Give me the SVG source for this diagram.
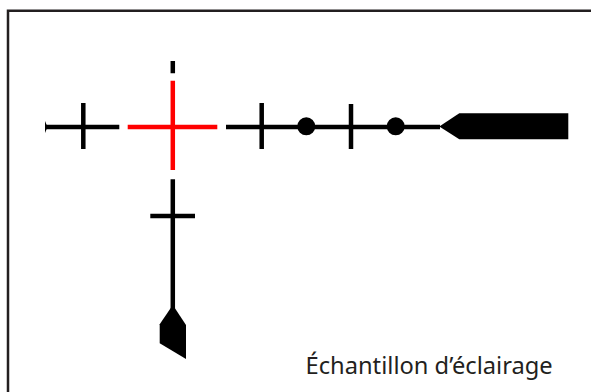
<svg xmlns="http://www.w3.org/2000/svg" width="591" height="392" viewBox="0 0 591 392">
<style>
.k{stroke:#000;stroke-width:4.500;fill:none}
.r{stroke:#f00;stroke-width:4.500;fill:none}
.f{fill:#000}
.t{font-family:"Noto Sans","Open Sans",sans-serif;font-size:23.700px;fill:#231f20}
</style>
<rect width="591" height="392" fill="#fff"/>
<path id="frame" d="M8 392V10.800H591" fill="none" stroke="#231f20" stroke-width="2.500"/>
<g id="connectors">
<path class="k" d="M46 127H119.300M83.300 103V149M226 127H440M261.700 103V149M351 104V149"/>
<path class="f" d="M45 121L47.500 127L45 133Z"/>
<path class="k" d="M172.800 61V73.300M172.800 179.300V310M150.300 216H195"/>
<path class="r" d="M127.700 127H217.300M172.800 80.700V170"/>
</g>
<g id="node-dot-1"><circle class="f" cx="306.300" cy="126.300" r="9"/></g>
<g id="node-dot-2"><circle class="f" cx="395.700" cy="126.300" r="9"/></g>
<g id="node-head-right"><path class="f" d="M439.300 126.500L459.300 113.300H568.300V139.300H459.300Z"/></g>
<g id="node-head-down"><path class="f" d="M172.800 305L186 325V359L159.700 343.300V324.300Z"/></g>
<g id="label"><text class="t" x="305.500" y="374">Échantillon d’éclairage</text></g>
</svg>
